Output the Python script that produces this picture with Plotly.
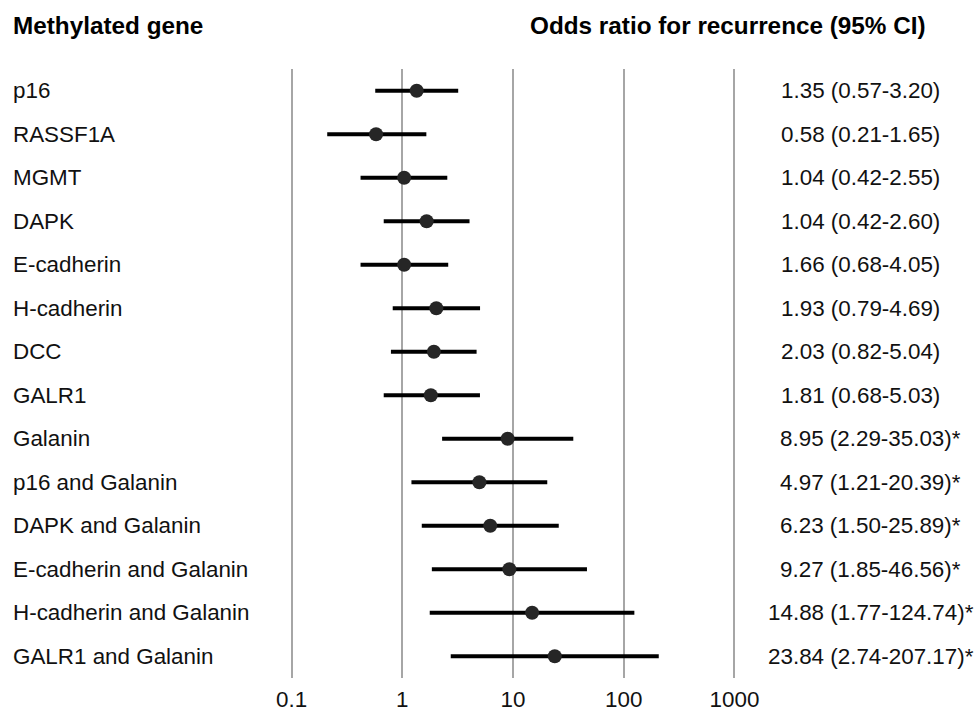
import plotly.graph_objects as go

genes = ["p16", "RASSF1A", "MGMT", "DAPK", "E-cadherin", "H-cadherin", "DCC", "GALR1",
         "Galanin", "p16 and Galanin", "DAPK and Galanin", "E-cadherin and Galanin",
         "H-cadherin and Galanin", "GALR1 and Galanin"]
odds = [1.35, 0.58, 1.04, 1.66, 1.04, 2.03, 1.93, 1.81, 8.95, 4.97, 6.23, 9.27, 14.88, 23.84]
ci_low = [0.57, 0.21, 0.42, 0.68, 0.42, 0.82, 0.79, 0.68, 2.29, 1.21, 1.50, 1.85, 1.77, 2.74]
ci_high = [3.20, 1.65, 2.55, 4.05, 2.60, 5.04, 4.69, 5.03, 35.03, 20.39, 25.89, 46.56, 124.74, 207.17]
or_text = ["1.35 (0.57-3.20)", "0.58 (0.21-1.65)", "1.04 (0.42-2.55)", "1.04 (0.42-2.60)",
           "1.66 (0.68-4.05)", "1.93 (0.79-4.69)", "2.03 (0.82-5.04)", "1.81 (0.68-5.03)",
           "8.95 (2.29-35.03)*", "4.97 (1.21-20.39)*", "6.23 (1.50-25.89)*", "9.27 (1.85-46.56)*",
           "14.88 (1.77-124.74)*", "23.84 (2.74-207.17)*"]
tick_vals = [0.1, 1, 10, 100, 1000]
tick_text = ["0.1", "1", "10", "100", "1000"]

W, H = 974, 712
L, R, T, B = 285.5, 234.2, 69, 34
pw = W - L - R
ph = H - T - B
FONT = "Liberation Sans, Arial, sans-serif"
FS = 22.4

rows = list(range(1, len(genes) + 1))

fig = go.Figure()
fig.add_trace(go.Scatter(
    x=odds, y=rows, mode="markers",
    marker=dict(size=14, color="#262626"),
    error_x=dict(type="data", symmetric=False,
                 array=[h - o for h, o in zip(ci_high, odds)],
                 arrayminus=[o - l for o, l in zip(odds, ci_low)],
                 color="#000000", thickness=4, width=0),
    showlegend=False, hoverinfo="skip",
))

def px_to_paper_x(px):
    return (px - L) / pw

def py_to_paper_y(py):
    return (H - B - py) / ph

anns = []
for r, g in zip(rows, genes):
    anns.append(dict(x=px_to_paper_x(10), xref="paper", y=r, yref="y", text=g,
                     showarrow=False, xanchor="left", yanchor="middle",
                     font=dict(size=FS, color="#111111", family=FONT)))
for r, t in zip(rows, or_text):
    cx = 870.5 if t.endswith("*") else 860
    anns.append(dict(x=px_to_paper_x(cx), xref="paper", y=r, yref="y", text=t,
                     showarrow=False, xanchor="center", yanchor="middle",
                     font=dict(size=FS, color="#111111", family=FONT)))
anns.append(dict(x=px_to_paper_x(10), xref="paper", y=py_to_paper_y(26), yref="paper",
                 text="<b>Methylated gene</b>", showarrow=False, xanchor="left", yanchor="middle",
                 font=dict(size=24.3, color="#000000", family=FONT)))
anns.append(dict(x=px_to_paper_x(528), xref="paper", y=py_to_paper_y(26), yref="paper",
                 text="<b>Odds ratio for recurrence (95% CI)</b>", showarrow=False,
                 xanchor="left", yanchor="middle",
                 font=dict(size=24.3, color="#000000", family=FONT)))

fig.update_layout(
    width=W, height=H,
    margin=dict(l=L, r=R, t=T, b=B, pad=0, autoexpand=False),
    paper_bgcolor="white", plot_bgcolor="white",
    annotations=anns,
    font=dict(family=FONT, size=FS, color="#111111"),
    xaxis=dict(type="log", range=[-1.05, 3.05], tickvals=tick_vals, ticktext=tick_text,
               showgrid=True, gridcolor="#a6a6a6", gridwidth=1.5, zeroline=False,
               showline=False, ticks="", ticklabelstandoff=6, automargin=False,
               tickfont=dict(size=FS, color="#111111", family=FONT)),
    yaxis=dict(range=[14.5, 0.5], showgrid=False, zeroline=False, showline=False,
               showticklabels=False, ticks="", automargin=False),
)

fig.write_html("out.html", config={"displayModeBar": False},
               post_script="document.body.style.margin='0';document.body.style.overflow='hidden';")
